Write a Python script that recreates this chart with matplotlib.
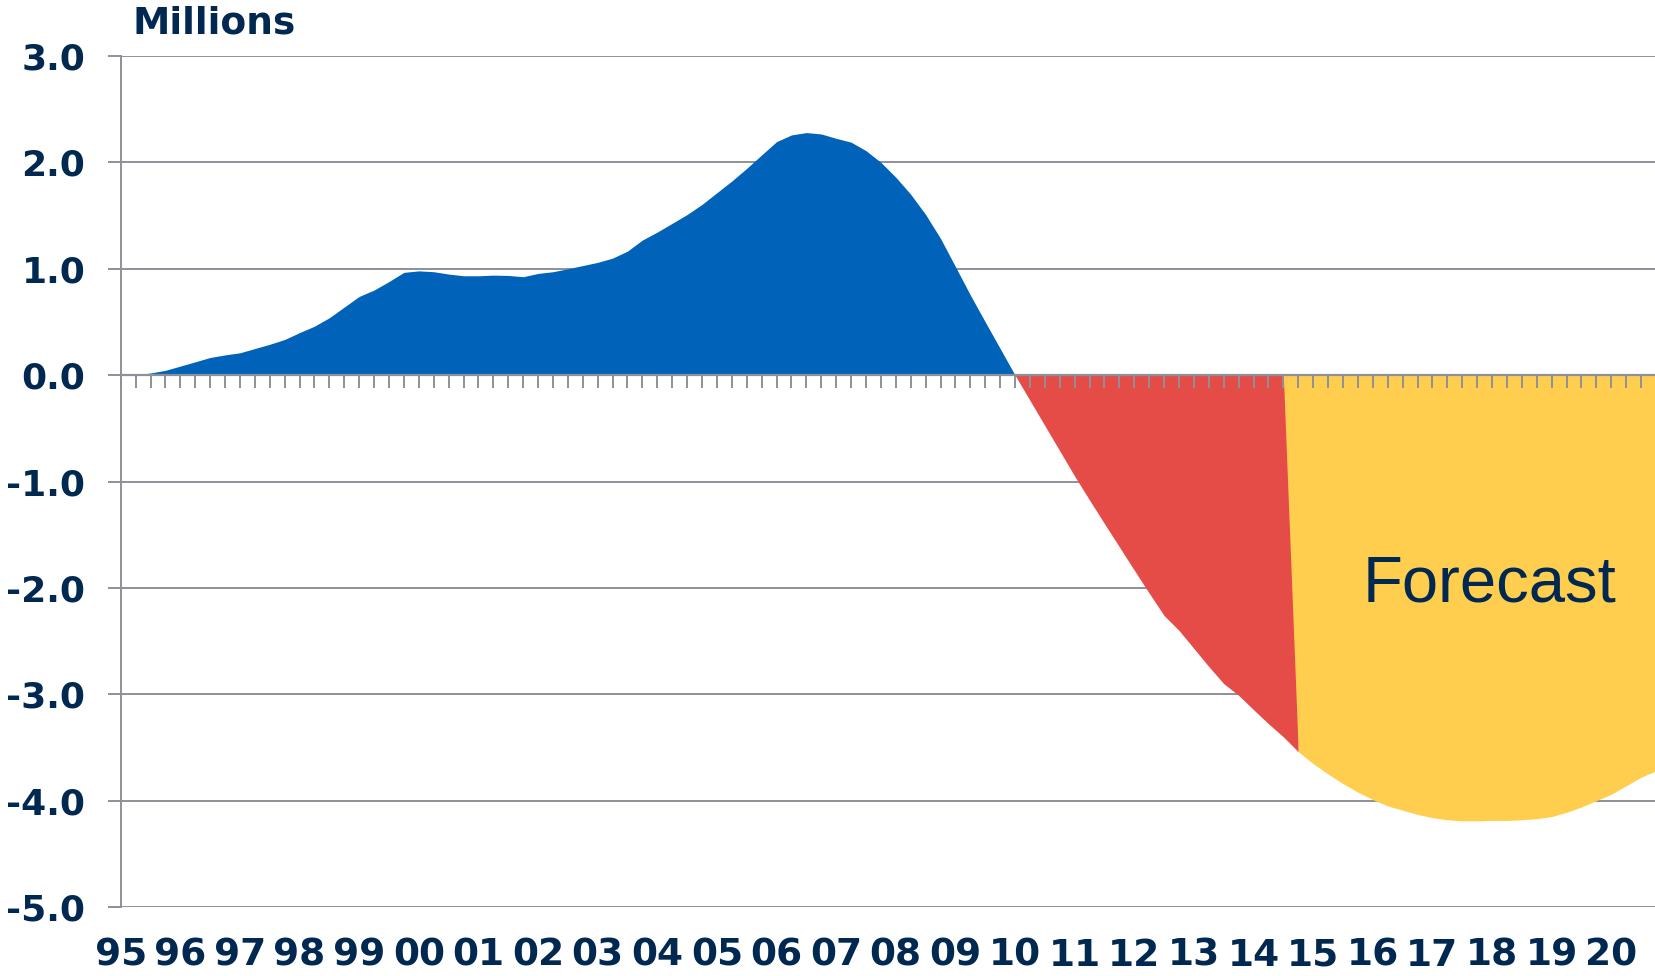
import numpy as np
import matplotlib
matplotlib.use("Agg")
import matplotlib.pyplot as plt

# ---------------- data (millions), quarterly points ----------------
year_labels = ["95", "96", "97", "98", "99", "00", "01", "02", "03", "04", "05", "06", "07",
               "08", "09", "10", "11", "12", "13", "14", "15", "16", "17", "18", "19", "20"]

# historic positive gap (quarters 0..60)
blue_values = [0.0, 0.0, 0.02, 0.045, 0.085, 0.125, 0.166, 0.19, 0.21, 0.25,
               0.29, 0.335, 0.40, 0.46, 0.54, 0.64, 0.74, 0.80, 0.88, 0.966,
               0.98, 0.972, 0.95, 0.934, 0.934, 0.94, 0.937, 0.925, 0.956, 0.972,
               1.0, 1.03, 1.06, 1.10, 1.166, 1.27, 1.345, 1.427, 1.51, 1.605,
               1.715, 1.825, 1.944, 2.07, 2.195, 2.258, 2.28, 2.267, 2.226, 2.19,
               2.11, 2.0, 1.86, 1.70, 1.51, 1.285, 1.02, 0.753, 0.50, 0.25, 0.0]
blue_start = 0

# historic negative gap (quarters 60..79)
red_values = [0.0, -0.238, -0.475, -0.712, -0.95, -1.175, -1.396, -1.615, -1.834, -2.05,
              -2.26, -2.40, -2.57, -2.74, -2.90, -3.01, -3.145, -3.277, -3.40, -3.54]
red_start = 60

# forecast (quarters 78..103)
yellow_values = [0.0, -3.54, -3.653, -3.75, -3.84, -3.92, -3.99, -4.05, -4.09, -4.13,
                 -4.16, -4.18, -4.19, -4.19, -4.186, -4.186, -4.18, -4.17, -4.15, -4.11,
                 -4.06, -4.0, -3.94, -3.86, -3.78, -3.72]
yellow_start = 78

n_quarters = 104
y_ticks = [3.0, 2.0, 1.0, 0.0, -1.0, -2.0, -3.0, -4.0, -5.0]

# ---------------- style ----------------
BLUE = "#0062B9"
RED = "#E64C47"
YELLOW = "#FFCE4F"
NAVY = "#002850"
GRAY = "#8E9099"

fig = plt.figure(figsize=(16.56, 9.76), dpi=100)
W, H = 1656, 976
ax = fig.add_axes([120.7 / W, (H - 907) / H, (W - 120.7) / W, (907 - 56) / H])

xb = np.arange(blue_start, blue_start + len(blue_values))
xr = np.arange(red_start, red_start + len(red_values))
xy = np.arange(yellow_start, yellow_start + len(yellow_values))

ax.fill_between(xb, 0, blue_values, color=BLUE, lw=0, zorder=2)
ax.fill_between(xr, 0, red_values, color=RED, lw=0, zorder=3)
ax.fill_between(xy, 0, yellow_values, color=YELLOW, lw=0, zorder=4)

ax.set_xlim(0, n_quarters - 1)
ax.set_ylim(-5, 3)

# gridlines (below the areas)
ax.set_yticks(y_ticks)
ax.set_yticklabels([f"{v:.1f}" for v in y_ticks], fontsize=26, fontweight="bold",
                   color=NAVY, family="DejaVu Sans")
ax.yaxis.grid(True, color=GRAY, lw=1.4)
ax.yaxis.set_zorder(1)
ax.xaxis.set_zorder(6)
ax.tick_params(axis="y", direction="out", length=9.4, width=1.4, color=GRAY, pad=16)

for s in ["top", "right"]:
    ax.spines[s].set_visible(False)
ax.spines["left"].set_color(GRAY)
ax.spines["left"].set_linewidth(1.4)
ax.spines["bottom"].set_position(("data", 0))
ax.spines["bottom"].set_color(GRAY)
ax.spines["bottom"].set_linewidth(1.6)
ax.spines["bottom"].set_zorder(6)
ax.spines["left"].set_zorder(6)

ax.set_xticks(np.arange(n_quarters))
ax.tick_params(axis="x", direction="out", length=9, width=1.4, color=GRAY,
               labelbottom=False)

# year labels along the bottom
sec = ax.secondary_xaxis("bottom")
sec.set_xticks(np.arange(len(year_labels)) * 4)
sec.set_xticklabels(year_labels, fontsize=27, fontweight="bold", color=NAVY,
                    family="DejaVu Sans")
sec.tick_params(length=0, pad=22)
sec.spines["bottom"].set_visible(False)

ax.text(91.8, -1.97, "Forecast", fontsize=47, color=NAVY, family="Liberation Sans",
        ha="center", va="center", zorder=7)

fig.text(133 / W, 1 - 33 / H, "Millions", fontsize=27, fontweight="bold", color=NAVY,
         family="DejaVu Sans", ha="left", va="baseline")

fig.savefig("out.png", dpi=100)
